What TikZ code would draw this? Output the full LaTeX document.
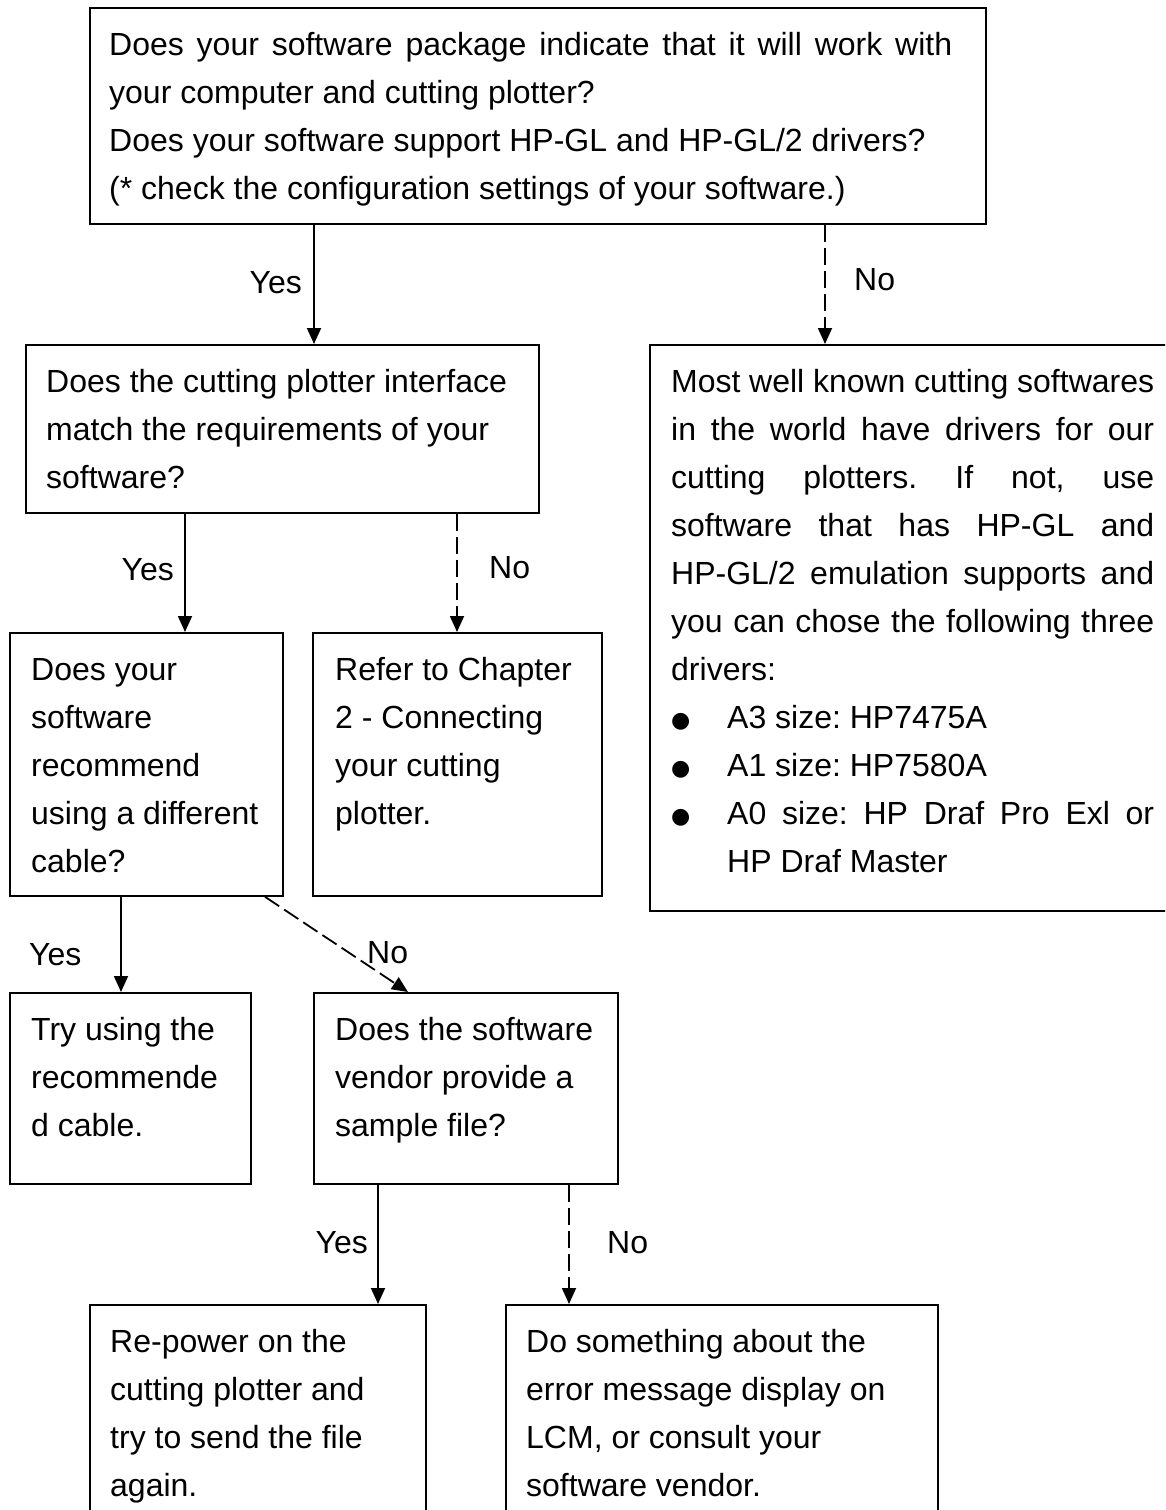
\documentclass[tikz,border=0pt]{standalone}
\usepackage{fontspec}
\setmainfont{Liberation Sans}
\newfontfamily\symfont{DejaVu Sans}
\usetikzlibrary{arrows.meta}
\frenchspacing
\newcommand{\bodyfont}{\fontsize{32}{48}\selectfont\frenchspacing}
\newcommand{\jl}[2]{\makebox[#1pt][s]{#2}}
\newcommand{\bul}{\makebox[56pt][l]{\raisebox{1pt}{\fontsize{22}{22}\symfont ●}}}
\begin{document}
\begin{tikzpicture}[x=1pt,y=-1pt,
  box/.style={draw, line width=1.8pt, inner sep=0pt, anchor=north west},
  txt/.style={inner sep=0pt, anchor=base west, font=\bodyfont},
  lbl/.style={inner sep=0pt, font=\bodyfont},
  arr/.style={line width=1.8pt, -{Triangle[length=16pt,width=14pt]}},
  dsh/.style={arr, dash pattern=on 17pt off 6pt}]
\useasboundingbox (0,0) rectangle (1165,1510);
\clip (0,0) rectangle (1165,1510);
% boxes
\node[box, minimum width=896, minimum height=216] (b1) at (89,7) {};
\node[box, minimum width=513, minimum height=168] (b2) at (25,344) {};
\node[box, minimum width=531, minimum height=566] (b3) at (649,344) {};
\node[box, minimum width=273, minimum height=263] (b4) at (9,632) {};
\node[box, minimum width=289, minimum height=263] (b5) at (312,632) {};
\node[box, minimum width=241, minimum height=191] (b6) at (9,992) {};
\node[box, minimum width=304, minimum height=191] (b7) at (313,992) {};
\node[box, minimum width=336, minimum height=230] (b8) at (89,1304) {};
\node[box, minimum width=432, minimum height=230] (b9) at (505,1304) {};
% texts
\node[txt] (t1) at (109,55) {\parbox[t]{860pt}{\jl{843}{Does your software package indicate that it will work with}\\
your computer and cutting plotter?\\
Does your software support HP-GL and HP-GL/2 drivers?\\
(* check the configuration settings of your software.)}};
\node[txt] (t2) at (46,392) {\parbox[t]{480pt}{Does the cutting plotter interface\\
match the requirements of your\\
software?}};
\node[txt] (t3) at (671,392) {\parbox[t]{483pt}{\jl{483}{Most well known cutting softwares}\\
\jl{483}{in the world have drivers for our}\\
\jl{483}{cutting plotters. If not, use}\\
\jl{483}{software that has HP-GL and}\\
\jl{483}{HP-GL/2 emulation supports and}\\
\jl{483}{you can chose the following three}\\
drivers:\\
\bul A3 size: HP7475A\\
\bul A1 size: HP7580A\\
\bul\jl{427}{A0 size: HP Draf Pro Exl or}\\
\hspace*{56pt}HP Draf Master}};
\node[txt] (t4) at (31,680) {\parbox[t]{250pt}{Does your\\
software\\
recommend\\
using a different\\
cable?}};
\node[txt] (t5) at (335,680) {\parbox[t]{260pt}{Refer to Chapter\\
2 - Connecting\\
your cutting\\
plotter.}};
\node[txt] (t6) at (31,1040) {\parbox[t]{215pt}{Try using the\\
recommende\\
d cable.}};
\node[txt] (t7) at (335,1040) {\parbox[t]{280pt}{Does the software\\
vendor provide a\\
sample file?}};
\node[txt] (t8) at (110,1352) {\parbox[t]{310pt}{Re-power on the\\
cutting plotter and\\
try to send the file\\
again.}};
\node[txt] (t9) at (526,1352) {\parbox[t]{400pt}{Do something about the\\
error message display on\\
LCM, or consult your\\
software vendor.}};
% connector x positions
\coordinate (x1) at (314,0);
\coordinate (x2) at (825,0);
\coordinate (x3) at (185,0);
\coordinate (x4) at (457,0);
\coordinate (x5) at (121,0);
\coordinate (x6a) at (265,0);
\coordinate (x6b) at (408,0);
\coordinate (x7) at (378,0);
\coordinate (x8) at (569,0);
% connectors
\draw[arr] (b1.south -| x1) -- (b2.north -| x1);
\draw[dsh] (b1.south -| x2) -- (b3.north -| x2);
\draw[arr] (b2.south -| x3) -- (b4.north -| x3);
\draw[dsh] (b2.south -| x4) -- (b5.north -| x4);
\draw[arr] (b4.south -| x5) -- (b6.north -| x5);
\draw[dsh] (b4.south -| x6a) -- (b7.north -| x6b);
\draw[arr] (b7.south -| x7) -- (b8.north -| x7);
\draw[dsh] (b7.south -| x8) -- (b9.north -| x8);
% labels
\node[lbl, anchor=base east] (l1) at (302,293) {Yes};
\node[lbl, anchor=base west] (l2) at (854,290) {No};
\node[lbl, anchor=base east] (l3) at (174,580) {Yes};
\node[lbl, anchor=base west] (l4) at (489,578) {No};
\node[lbl, anchor=base west] (l5) at (29,965) {Yes};
\node[lbl, anchor=base west] (l6) at (367,963) {No};
\node[lbl, anchor=base east] (l7) at (368,1253) {Yes};
\node[lbl, anchor=base west] (l8) at (607,1253) {No};
\end{tikzpicture}
\end{document}
